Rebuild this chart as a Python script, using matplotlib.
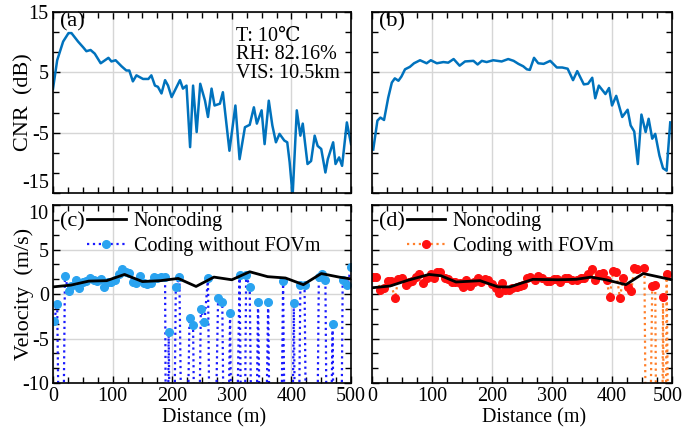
import numpy as np
import matplotlib
matplotlib.use("Agg")
import matplotlib.pyplot as plt
from matplotlib.ticker import AutoMinorLocator, MultipleLocator
from matplotlib.transforms import ScaledTranslation

plt.rcParams['font.family'] = ['Liberation Serif', 'DejaVu Serif']
plt.rcParams['axes.unicode_minus'] = False

# (a) CNR, T 10C
dist_a = [0, 7, 17, 26, 31, 42, 51, 56, 63, 70, 80, 93, 98, 105, 115, 123, 128, 134, 140, 151,
          160, 165, 171, 176, 182, 188, 193, 199, 213, 218, 224, 230, 235, 241, 247, 255, 260, 266, 271, 280,
          285, 296, 306, 313, 322, 330, 337, 342, 350, 355, 362, 368, 374, 380, 388, 393, 397, 402, 409, 415,
          419, 427, 433, 439, 444, 450, 457, 461, 470, 474, 480, 485, 493, 500]
cnr_a = [2.3, 7.0, 10.1, 11.5, 11.5, 10.1, 9.1, 8.5, 8.7, 8.1, 6.5, 7.4, 6.8, 7.0, 6.0, 5.3, 5.3, 3.5, 4.5, 3.9,
         3.9, 4.5, 2.8, 2.6, 1.5, 3.7, 2.8, 0.9, 3.7, 2.3, 2.8, -7.4, 2.8, -4.9, 3.1, 0.3, -2.4, 2.3, -0.5, -0.2,
         1.7, -8.0, -0.5, -9.4, -4.1, -3.7, -0.8, -3.5, -1.3, -6.9, 0.3, -3.8, -6.6, -5.2, -6.3, -6.6, -9.9, -15.5, -1.3, -5.5,
         -3.5, -10.2, -9.7, -5.5, -7.2, -7.7, -11.6, -9.4, -6.6, -10.2, -9.1, -10.5, -3.3, -6.9]

# (b) CNR
dist_b = [2, 9, 14, 20, 27, 33, 38, 44, 49, 55, 63, 70, 80, 91, 98, 108, 119, 127, 136, 146,
          155, 169, 176, 183, 191, 202, 216, 227, 236, 244, 252, 258, 263, 270, 277, 286, 297, 308, 317, 326,
          335, 342, 353, 360, 367, 372, 378, 389, 395, 400, 407, 417, 426, 431, 437, 443, 449, 456, 461, 467,
          472, 479, 485, 491, 497]
cnr_b = [-7.8, -3.0, -2.5, -2.9, 0.8, 3.3, 4.0, 3.6, 4.3, 5.5, 5.9, 6.5, 7.0, 6.5, 7.0, 6.5, 6.7, 6.6, 7.2, 6.1,
         6.8, 6.9, 6.3, 6.9, 6.7, 7.0, 6.8, 7.2, 6.9, 6.4, 6.0, 5.5, 5.4, 7.4, 6.5, 6.4, 6.9, 5.8, 5.8, 5.6,
         3.7, 5.2, 3.0, 3.1, 4.1, 0.7, 2.8, 1.4, 2.4, -0.5, 1.1, -2.4, -1.2, -3.8, -4.8, -10.2, -2.0, -4.9, -2.7, -6.0,
         -5.2, -8.8, -10.9, -11.3, -3.3]

# (c) velocity
nc_c_dist = [0, 30, 60, 90, 120, 150, 180, 210, 240, 270, 300, 330, 360, 390, 420, 450, 480, 500]
nc_c = [0.8, 1.0, 1.45, 1.5, 2.2, 1.4, 1.5, 1.75, 0.85, 1.9, 1.6, 2.5, 1.95, 1.8, 1.05, 2.3, 1.9, 1.7]
cod_c_dist = [2, 7, 14, 20, 26, 31, 38, 44, 50, 55, 62, 68, 73, 80, 86, 93, 98, 104, 111, 116,
              122, 128, 135, 140, 146, 152, 158, 164, 169, 175, 182, 188, 191, 194, 200, 206, 212, 220, 229, 235,
              241, 248, 254, 260, 266, 277, 284, 290, 297, 303, 313, 319, 324, 330, 337, 344, 352, 361, 367, 379,
              386, 392, 398, 404, 409, 415, 422, 428, 440, 446, 452, 457, 462, 469, 474, 481, 486, 494, 500]
cod_c = [-3.0, -1.1, -40, 2.0, 0.3, 0.9, 1.6, 0.7, 1.3, 1.5, 1.8, 1.6, 1.5, 1.7, 0.8, 1.3, 1.4, 1.6, 2.2, 2.8,
         2.5, 2.4, 1.3, 1.2, 2.0, 1.2, 1.1, 1.2, 1.9, 1.8, 1.9, 1.9, -40, -4.3, -40, 0.75, 1.9, -40, -2.7, -3.5,
         -40, -1.7, -3.2, 1.8, -40, -0.4, -0.9, -40, -2.1, -40, 2.1, -40, 2.1, 0.8, -40, -0.9, -40, -0.9, -40, -40,
         1.5, -40, -40, -1.0, -40, 1.0, 1.0, -40, -40, 1.9, 2.3, 1.6, -40, -3.4, -40, -40, 1.6, 1.0, 3.0]

# (d) velocity
nc_d_dist = [0, 30, 60, 95, 115, 140, 180, 210, 230, 268, 310, 340, 365, 390, 423, 452, 500]
nc_d = [0.7, 0.9, 1.55, 2.2, 2.05, 1.35, 1.5, 0.8, 0.8, 1.65, 1.6, 1.65, 1.9, 1.6, 1.05, 2.3, 1.6]
cod_d_dist = [2, 7, 14, 20, 26, 31, 38, 44, 50, 56, 61, 67, 74, 79, 85, 92, 98, 103, 109, 114,
              121, 127, 133, 139, 146, 152, 157, 163, 170, 176, 182, 188, 193, 200, 206, 211, 217, 222, 228, 233,
              241, 246, 252, 259, 264, 271, 277, 283, 291, 296, 303, 309, 314, 321, 327, 333, 341, 348, 354, 360,
              367, 372, 378, 385, 391, 396, 402, 407, 413, 419, 426, 432, 437, 442, 454, 459, 467, 472, 476, 482,
              485, 488, 491, 497]
cod_d = [1.95, 1.95, 0.5, 0.65, 1.5, 1.45, -0.5, 1.7, 1.75, 1.0, 1.3, 1.45, 1.95, 2.2, 1.2, 1.8, 2.2, 1.85, 2.45, 2.45,
         1.75, 1.7, 1.3, 1.3, 1.2, 0.8, 1.55, 0.9, 1.3, 1.85, 1.3, 1.65, 1.55, 1.1, 0.7, 0.15, 1.2, 0.45, 0.45, 0.65,
         0.75, 0.9, 1.0, 1.85, 1.95, 1.55, 2.05, 1.85, 1.45, 1.45, 1.7, 1.7, 1.3, 1.85, 1.75, 1.55, 1.55, 1.75, 1.75, 2.2,
         2.8, 1.55, 2.3, 2.4, 1.55, -0.3, 2.6, 2.45, -0.4, 1.85, 0.8, 0.35, 2.9, 2.8, 2.9, -40, 0.9, 1.0, -40, -40,
         -0.3, -40, 2.2, -40]

fig = plt.figure(figsize=(6.84, 4.34), dpi=100)
ax_a = fig.add_axes([0.0775, 0.5553, 0.4357, 0.4171])
ax_b = fig.add_axes([0.5439, 0.5553, 0.4386, 0.4171])
ax_c = fig.add_axes([0.0775, 0.1175, 0.4357, 0.4101])
ax_d = fig.add_axes([0.5439, 0.1175, 0.4386, 0.4101])

for ax in [ax_a, ax_b, ax_c, ax_d]:
    ax.set_xlim(0, 500)
    ax.set_xticks([0, 100, 200, 300, 400, 500])
    ax.xaxis.set_minor_locator(MultipleLocator(25))
    ax.grid(which='major', color='#d6d6d6', lw=1)
    ax.set_axisbelow(True)
    ax.tick_params(which='both', direction='in', top=True, right=True, labelsize=14.5, width=1, pad=3)
    ax.tick_params(which='major', length=5)
    ax.tick_params(which='minor', length=4)
    for s in ax.spines.values():
        s.set_linewidth(1.2)

for ax in [ax_a, ax_b]:
    ax.set_ylim(-15, 15)
    ax.set_yticks([-15, -5, 5, 15])
    ax.yaxis.set_minor_locator(AutoMinorLocator(3))
    ax.tick_params(labelbottom=False)

for ax in [ax_c, ax_d]:
    ax.set_ylim(-10, 10)
    ax.set_yticks([-10, -5, 0, 5, 10])
    ax.yaxis.set_minor_locator(AutoMinorLocator(3))
    ax.set_xlabel("Distance (m)", fontsize=14.5)
    ax.xaxis.set_label_coords(0.54, -0.14)

ax_b.tick_params(labelleft=False)
ax_d.tick_params(labelleft=False)

# edge labels sit a little inside, as in the original
ax_c.yaxis.get_major_ticks()[4].label1.set_va('top')
ax_a.yaxis.get_major_ticks()[0].label1.set_va('bottom')
last = ax_d.xaxis.get_major_ticks()[5].label1
last.set_transform(last.get_transform() + ScaledTranslation(-3 / 72, 0, fig.dpi_scale_trans))

ax_a.plot(dist_a, cnr_a, color='#0072BD', lw=1.8)
ax_b.plot(dist_b, cnr_b, color='#0072BD', lw=1.8)

ax_a.set_ylabel("CNR  (dB)", fontsize=16)
ax_a.yaxis.set_label_coords(-0.065, 0.5)
ax_c.set_ylabel("Velocity  (m/s)", fontsize=16)
ax_c.yaxis.set_label_coords(-0.065, 0.5)

ax_a.text(0.024, 1.0, "(a)", transform=ax_a.transAxes, fontsize=16, va='top', ha='left')
ax_b.text(0.024, 1.0, "(b)", transform=ax_b.transAxes, fontsize=16, va='top', ha='left')
ax_a.text(0.615, 0.92, "T: 10\u2103\nRH: 82.16%\nVIS: 10.5km", transform=ax_a.transAxes,
          fontsize=14.5, va='top', ha='left', linespacing=1.0)

ax_c.plot(nc_c_dist, nc_c, color='black', lw=2, label='Noncoding', zorder=3)
ax_c.plot(cod_c_dist, cod_c, color='#1a1aff', ls=':', lw=1.6, marker='o', ms=5.5,
          mfc='#2aa3f0', mec='#2aa3f0', label='Coding without FOVm', zorder=2)
ax_d.plot(nc_d_dist, nc_d, color='black', lw=2, label='Noncoding', zorder=3)
ax_d.plot(cod_d_dist, cod_d, color='#ff7f2a', ls=':', lw=1.6, marker='o', ms=5.5,
          mfc='#ff1010', mec='#ff1010', label='Coding with FOVm', zorder=2)

for ax, lab in [(ax_c, "(c)"), (ax_d, "(d)")]:
    ax.text(0.024, 0.96, lab, transform=ax.transAxes, fontsize=16, va='top', ha='left')
    ax.legend(loc='upper left', bbox_to_anchor=(0.115, 0.96), frameon=False, fontsize=14.5,
              handlelength=1.9, handletextpad=0.4, labelspacing=0.3, borderpad=0, borderaxespad=0)

fig.savefig("out.png", dpi=100)
